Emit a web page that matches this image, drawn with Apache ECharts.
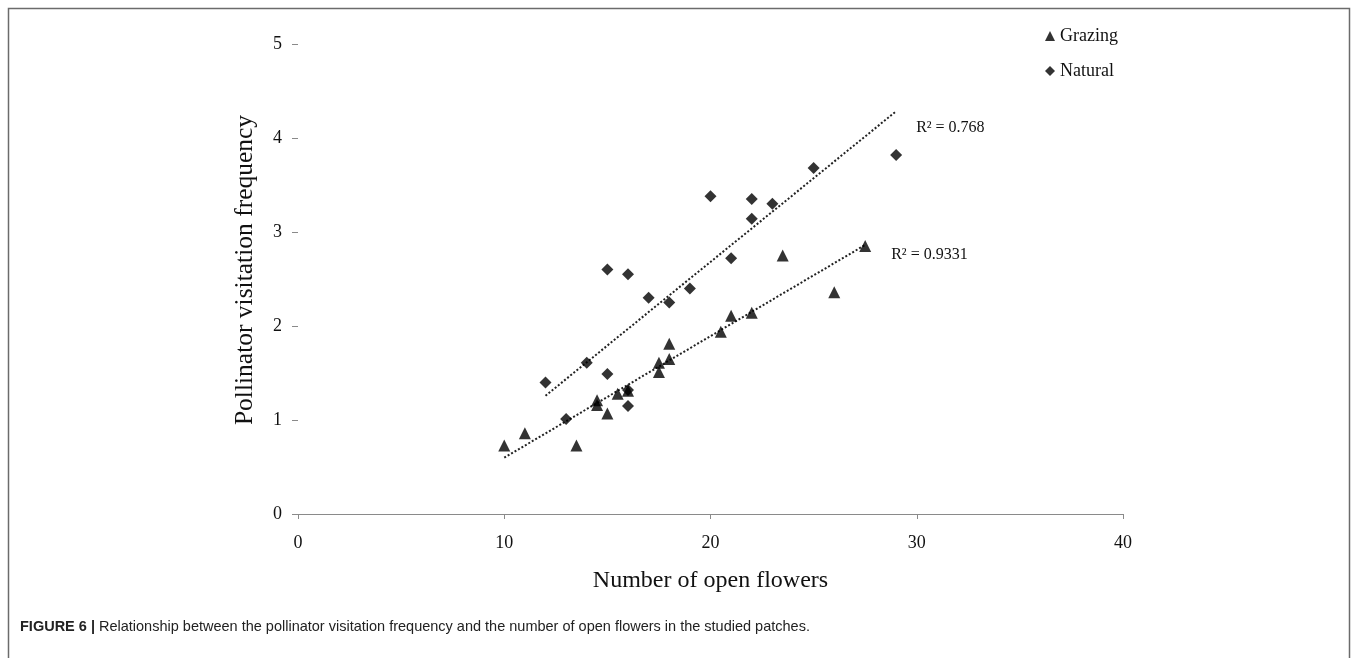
<!DOCTYPE html>
<html>
<head>
<meta charset="utf-8">
<script src="https://cdn.jsdelivr.net/npm/echarts@6/dist/echarts.min.js"></script>
<style>
  html, body { margin: 0; padding: 0; background: #fff; }
  #main { width: 1358px; height: 658px; }
</style>
</head>
<body>
<div id="main"></div>
<script>
// Grazing patches (triangles)
var grazingX = [10, 11, 13.5, 14.5, 14.5, 15, 15.5, 16, 17.5, 17.5, 18, 18, 20.5, 21, 22, 23.5, 26, 27.5];
var grazingY = [0.73, 0.86, 0.73, 1.16, 1.21, 1.07, 1.28, 1.31, 1.51, 1.61, 1.65, 1.81, 1.94, 2.11, 2.14, 2.75, 2.36, 2.85];
// Natural patches (diamonds)
var naturalX = [12, 13, 14, 15, 15, 16, 16, 16, 17, 18, 19, 20, 21, 22, 22, 23, 25, 29];
var naturalY = [1.40, 1.01, 1.61, 2.60, 1.49, 2.55, 1.15, 1.32, 2.30, 2.25, 2.40, 3.38, 2.72, 3.35, 3.14, 3.30, 3.68, 3.82];
var r2Labels = ['R² = 0.9331', 'R² = 0.768'];

function pairs(xs, ys) {
    return xs.map(function (x, i) { return [x, ys[i]]; });
}

// least squares line, drawn over the range of the data (like the Excel trendline)
function trend(xs, ys) {
    var n = xs.length, sx = 0, sy = 0, sxx = 0, sxy = 0;
    for (var i = 0; i < n; i++) {
        sx += xs[i]; sy += ys[i]; sxx += xs[i] * xs[i]; sxy += xs[i] * ys[i];
    }
    var b = (n * sxy - sx * sy) / (n * sxx - sx * sx);
    var a = (sy - b * sx) / n;
    var lo = Math.min.apply(null, xs), hi = Math.max.apply(null, xs);
    return [[lo, a + b * lo], [hi, a + b * hi]];
}

var serif = 'Liberation Serif, Times New Roman, serif';
var myChart = echarts.init(document.getElementById('main'));
var option = {
    backgroundColor: '#fff',
    animation: false,
    graphic: [{
        type: 'rect',
        shape: { x: 8.5, y: 8.5, width: 1341, height: 670 },
        style: { fill: 'none', stroke: '#6b6b6b', lineWidth: 1.5 }
    }, {
        // y axis title, placed a little above the middle as in the original
        type: 'text',
        x: 245,
        y: 270,
        rotation: Math.PI / 2,
        style: {
            text: 'Pollinator visitation frequency',
            fontFamily: serif,
            fontSize: 25.5,
            fill: '#111',
            align: 'center',
            verticalAlign: 'middle'
        }
    }, {
        type: 'text',
        left: 20,
        top: 619,
        style: {
            text: '{b|FIGURE 6 |} Relationship between the pollinator visitation frequency and the number of open flowers in the studied patches.',
            fontFamily: 'Liberation Sans, Arial, sans-serif',
            fontSize: 14.5,
            fill: '#222',
            rich: {
                b: { fontWeight: 'bold', fontSize: 14.5, fontFamily: 'Liberation Sans, Arial, sans-serif', fill: '#222' }
            }
        }
    }],
    legend: {
        left: 1040,
        top: 22,
        orient: 'vertical',
        itemGap: 17,
        itemWidth: 10,
        itemHeight: 10,
        textStyle: { fontFamily: serif, fontSize: 18, color: '#111' },
        data: [
            { name: 'Grazing', icon: 'triangle' },
            { name: 'Natural', icon: 'diamond' }
        ]
    },
    grid: { left: 298, right: 235, top: 44, bottom: 144 },
    xAxis: {
        type: 'value',
        min: 0, max: 40, interval: 10,
        name: 'Number of open flowers',
        nameLocation: 'middle',
        nameGap: 55,
        nameTextStyle: { fontFamily: serif, fontSize: 24, color: '#111' },
        axisLine: { show: true, lineStyle: { color: '#8a8a8a', width: 1.2 } },
        axisTick: { show: true, length: 5, lineStyle: { color: '#8a8a8a' } },
        axisLabel: { fontFamily: serif, fontSize: 18, color: '#111', margin: 20 },
        splitLine: { show: false }
    },
    yAxis: {
        type: 'value',
        min: 0, max: 5, interval: 1,
        axisLine: { show: false },
        axisTick: { show: true, length: 6, lineStyle: { color: '#8a8a8a' } },
        axisLabel: { fontFamily: serif, fontSize: 18, color: '#111', margin: 16 },
        splitLine: { show: false }
    },
    series: [{
        name: 'Grazing',
        type: 'scatter',
        symbol: 'triangle',
        symbolSize: 12,
        itemStyle: { color: '#000' },
        data: pairs(grazingX, grazingY),
        z: 3
    }, {
        name: 'Natural',
        type: 'scatter',
        symbol: 'diamond',
        symbolSize: 12,
        itemStyle: { color: '#000' },
        data: pairs(naturalX, naturalY),
        z: 3
    }, {
        name: 'trendGrazing',
        type: 'line',
        showSymbol: false,
        symbol: 'none',
        lineStyle: { type: 'dotted', width: 2, color: '#222' },
        data: trend(grazingX, grazingY),
        endLabel: {
            show: true,
            formatter: r2Labels[0],
            offset: [18, 10],
            fontFamily: serif, fontSize: 16, color: '#111'
        },
        z: 2
    }, {
        name: 'trendNatural',
        type: 'line',
        showSymbol: false,
        symbol: 'none',
        lineStyle: { type: 'dotted', width: 2, color: '#222' },
        data: trend(naturalX, naturalY),
        endLabel: {
            show: true,
            formatter: r2Labels[1],
            offset: [12, 17],
            fontFamily: serif, fontSize: 16, color: '#111'
        },
        z: 2
    }]
};
myChart.setOption(option);
</script>
</body>
</html>
